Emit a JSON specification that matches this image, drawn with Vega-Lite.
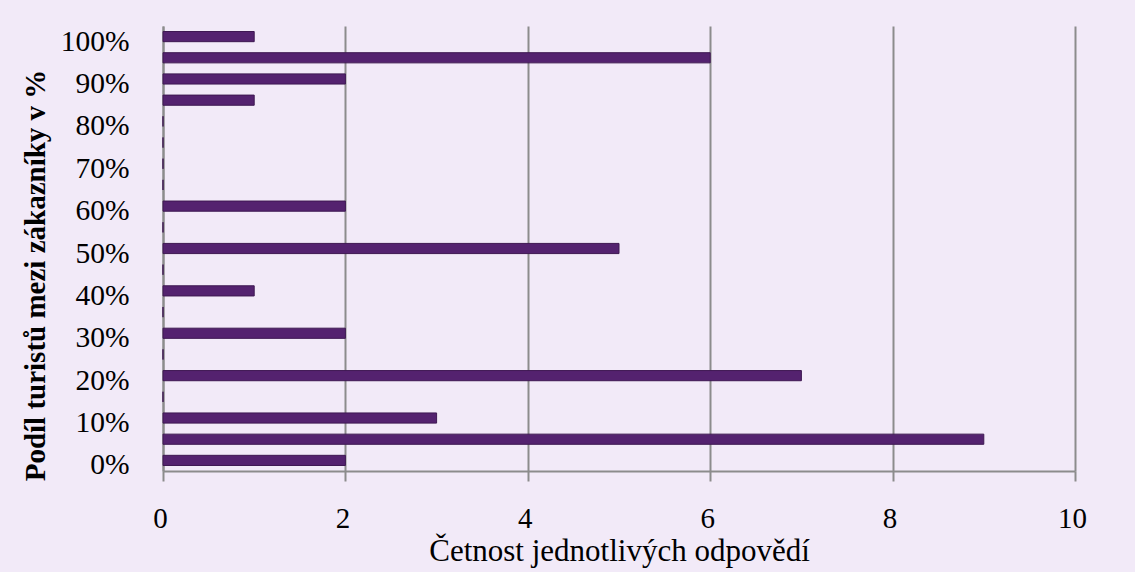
{
  "$schema": "https://vega.github.io/schema/vega-lite/v6.json",
  "width": 912,
  "height": 445,
  "autosize": {"type": "none"},
  "padding": {"left": 163, "top": 26, "right": 60, "bottom": 101},
  "background": "#F2EAF8",
  "config": {"view": {"stroke": null}, "font": "Liberation Serif"},
  "data": {
    "values": [
      {"podil": "0%", "n": 2},
      {"podil": "5%", "n": 9},
      {"podil": "10%", "n": 3},
      {"podil": "15%", "n": 0},
      {"podil": "20%", "n": 7},
      {"podil": "25%", "n": 0},
      {"podil": "30%", "n": 2},
      {"podil": "35%", "n": 0},
      {"podil": "40%", "n": 1},
      {"podil": "45%", "n": 0},
      {"podil": "50%", "n": 5},
      {"podil": "55%", "n": 0},
      {"podil": "60%", "n": 2},
      {"podil": "65%", "n": 0},
      {"podil": "70%", "n": 0},
      {"podil": "75%", "n": 0},
      {"podil": "80%", "n": 0},
      {"podil": "85%", "n": 1},
      {"podil": "90%", "n": 2},
      {"podil": "95%", "n": 6},
      {"podil": "100%", "n": 1}
    ]
  },
  "mark": {"type": "bar", "color": "#54226F", "stroke": "#3E1852", "strokeWidth": 1},
  "encoding": {
    "y": {
      "field": "podil",
      "type": "nominal",
      "sort": ["100%", "95%", "90%", "85%", "80%", "75%", "70%", "65%", "60%", "55%", "50%", "45%", "40%", "35%", "30%", "25%", "20%", "15%", "10%", "5%", "0%"],
      "scale": {"paddingInner": 0.52, "paddingOuter": 0.26},
      "axis": {
        "title": "Podíl turistů mezi zákazníky v %",
        "titleFont": "Liberation Serif",
        "titleFontSize": 29,
        "titleFontWeight": "bold",
        "titleColor": "#000000",
        "titlePadding": 10,
        "titleY": 249,
        "labelExpr": "parseInt(datum.value) % 10 === 0 ? datum.value : ''",
        "labelFont": "Liberation Serif",
        "labelFontSize": 29.5,
        "labelColor": "#000000",
        "labelOffset": 5,
        "labelPadding": 34,
        "ticks": false,
        "domainColor": "#8C8C8C",
        "domainWidth": 2,
        "grid": false
      }
    },
    "x": {
      "field": "n",
      "type": "quantitative",
      "scale": {"domain": [0, 10], "nice": false},
      "axis": {
        "values": [0, 2, 4, 6, 8, 10],
        "title": "Četnost jednotlivých odpovědí",
        "titleFont": "Liberation Serif",
        "titleFontSize": 31,
        "titleFontWeight": "normal",
        "titleColor": "#000000",
        "titlePadding": 3,
        "labelFont": "Liberation Serif",
        "labelFontSize": 29,
        "labelColor": "#000000",
        "labelPadding": 23,
        "labelOffset": -3,
        "labelFlush": false,
        "labelOverlap": false,
        "tickColor": "#8C8C8C",
        "tickWidth": 2,
        "tickSize": 10,
        "domainColor": "#8C8C8C",
        "domainWidth": 2,
        "grid": true,
        "gridColor": "#8C8C8C",
        "gridWidth": 2
      }
    }
  }
}
